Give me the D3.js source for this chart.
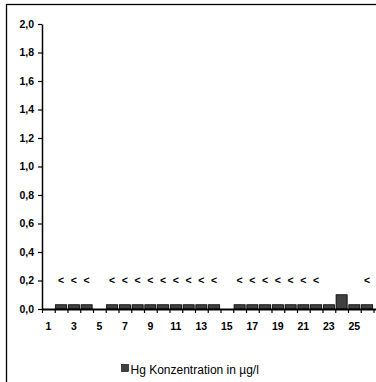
<!DOCTYPE html>
<html><head><meta charset="utf-8">
<script src="https://cdn.jsdelivr.net/npm/d3@7/dist/d3.min.js"></script>
<style>body{margin:0;background:#fff}svg{display:block}</style>
</head><body>
<script>
const categories = d3.range(1, 29).map(String);
const values = [null,0.03,0.03,0.03,null,0.03,0.03,0.03,0.03,0.03,0.03,0.03,0.03,0.03,0,0.03,0.03,0.03,0.03,0.03,0.03,0.03,0.03,0.1,0.03,0.03,null,null];
const lessThan = [false,true,true,true,false,true,true,true,true,true,true,true,true,true,false,true,true,true,true,true,true,true,false,false,false,true,false,false];
const xTickLabels = ["1","3","5","7","9","11","13","15","17","19","21","23","25"];
const yTicks = [0,0.2,0.4,0.6,0.8,1.0,1.2,1.4,1.6,1.8,2.0];
const seriesName = "Hg Konzentration in µg/l";
const labelLevel = 0.2;

const W = 376, H = 382;
const svg = d3.select("body").append("svg").attr("width", W).attr("height", H);
const font = "'Liberation Sans', Arial, sans-serif";

svg.append("rect").attr("x", 6.5).attr("y", 4.5).attr("width", 500).attr("height", 500)
  .attr("fill", "none").attr("stroke", "#000").attr("stroke-width", 1.3);

const x0 = 42, step = 12.75, y0 = 309, yTop = 24;
const N = categories.length;
const x = d3.scaleBand().domain(categories).range([x0, x0 + N*step]).paddingInner(0.13).paddingOuter(0.065);
const xl = d3.scaleLinear().domain([0, N]).range([x0, x0 + N*step]);
const y = d3.scaleLinear().domain([0, 2]).range([y0, yTop]);

const data = categories.map((c,i) => ({c, v: values[i], lt: lessThan[i]}));

// bars
svg.append("g").selectAll("rect").data(data.filter(d => d.v !== null)).join("rect")
  .attr("x", d => x(d.c)).attr("width", x.bandwidth())
  .attr("y", d => y(d.v)).attr("height", d => y(0) - y(d.v))
  .attr("fill", "#404040").attr("stroke", "#000").attr("stroke-width", 0.8);

// "<" labels
svg.append("g").selectAll("text").data(data.filter(d => d.lt)).join("text")
  .attr("x", d => x(d.c) + x.bandwidth()/2).attr("y", y(labelLevel) + 3.5)
  .attr("text-anchor", "middle").attr("font-family", font).attr("font-size", 10.5).attr("font-weight", "bold")
  .text("<");

// y axis
const fmt = d => d3.format(".1f")(d).replace(".", ",");
const ya = svg.append("g").attr("transform", `translate(${x0},0)`)
  .call(d3.axisLeft(y).tickValues(yTicks).tickFormat(fmt).tickSize(4).tickSizeOuter(0).tickPadding(4));
ya.select(".domain").attr("stroke-width", 1.5);
ya.selectAll(".tick line").attr("stroke-width", 1.2);
ya.selectAll("text").attr("font-family", font).attr("font-size", 10.5).attr("font-weight", "bold").attr("fill", "#000");

// x axis ticks at boundaries
const xa = svg.append("g").attr("transform", `translate(0,${y0})`)
  .call(d3.axisBottom(xl).tickValues(d3.range(N+1)).tickFormat("").tickSize(4).tickSizeOuter(0));
xa.select(".domain").attr("stroke-width", 1.8);
xa.selectAll(".tick line").attr("stroke-width", 1.2);
// x labels
const xb = svg.append("g").attr("transform", `translate(0,${y0})`)
  .call(d3.axisBottom(x).tickValues(xTickLabels).tickSize(0).tickPadding(14));
xb.select(".domain").remove();
xb.selectAll("text").attr("font-family", font).attr("font-size", 10.5).attr("font-weight", "bold").attr("fill", "#000");

// legend
const lg = svg.append("g");
lg.append("rect").attr("x", 121.5).attr("y", 364.5).attr("width", 7).attr("height", 7)
  .attr("fill", "#404040").attr("stroke", "#000").attr("stroke-width", 0.6);
lg.append("text").attr("x", 130.5).attr("y", 373.5).attr("font-family", font).attr("font-size", 12)
  .attr("fill", "#000").text(seriesName);
</script>
</body></html>
